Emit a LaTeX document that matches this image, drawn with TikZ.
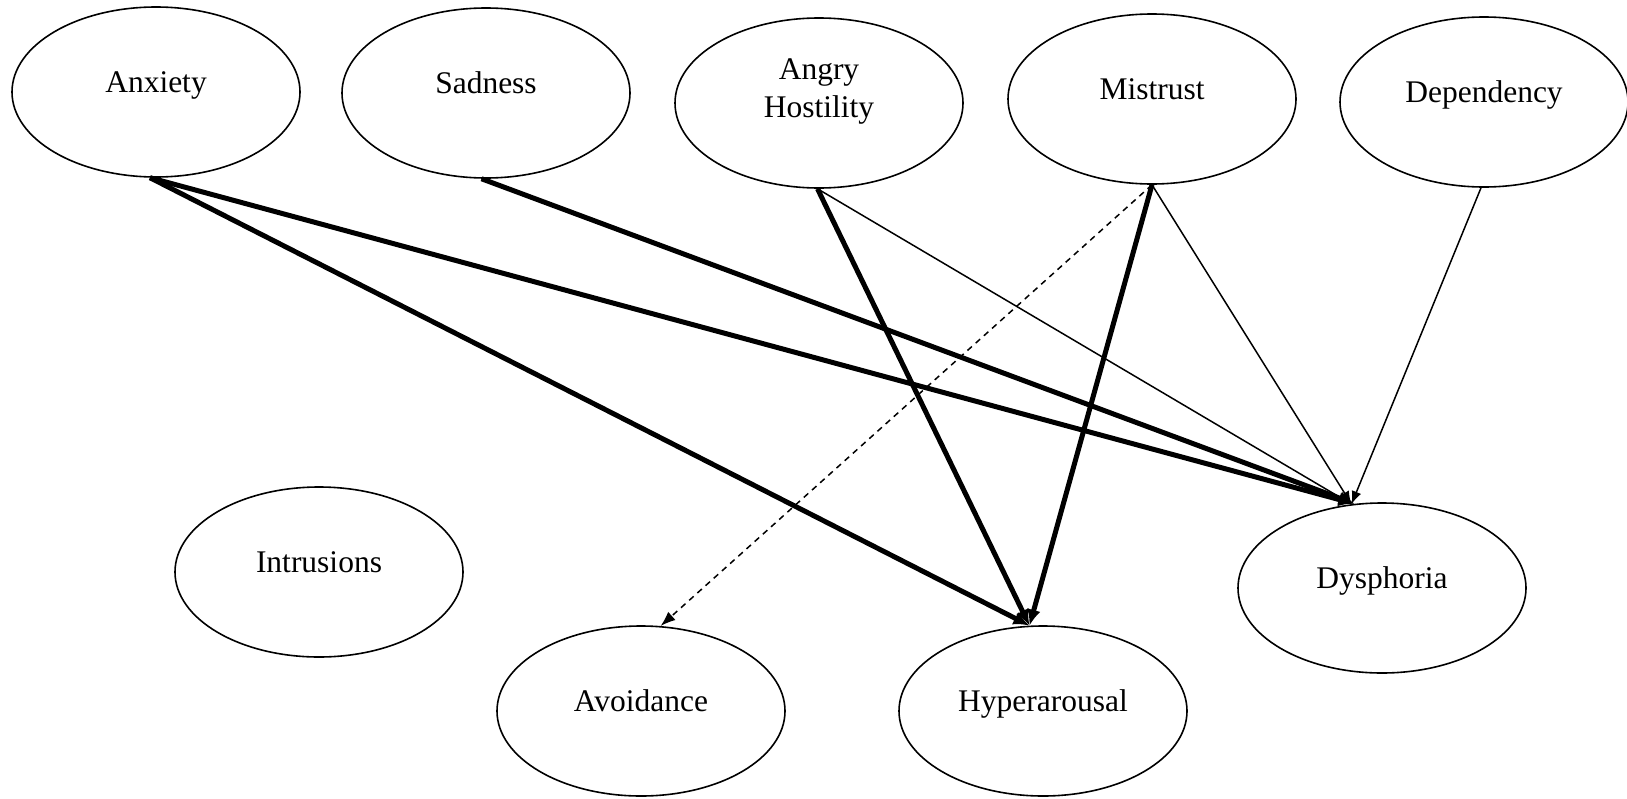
\documentclass[tikz,border=0pt]{standalone}
\usepackage{fontspec}
\setmainfont{Liberation Serif}
\usetikzlibrary{arrows.meta,shapes.geometric}
\begin{document}
\begin{tikzpicture}[x=1pt,y=-1pt,
  state/.style={ellipse, draw, line width=1.6pt, minimum width=288pt, minimum height=170pt,
    inner sep=0pt, font=\fontsize{31.5}{38}\selectfont, text height=0pt, text depth=0pt},
  thickarr/.style={line width=5pt, -{Latex[length=16pt,width=14pt]}},
  thinarr/.style={line width=1.5pt, -{Latex[length=13pt,width=10pt]}},
  dasharr/.style={line width=1.5pt, dash pattern=on 6pt off 5pt, -{Latex[length=15pt,width=11pt]}}
]
\useasboundingbox (0,0) rectangle (1627,798);
\node[state] (anx) at (156,92) {Anxiety};
\node[state] (sad) at (486,93) {Sadness};
\node[state, align=center, text height=28pt, text depth=0pt] (ang) at (819,103) {Angry\\Hostility};
\node[state] (mis) at (1152,99) {Mistrust};
\node[state] (dep) at (1484,102) {Dependency};
\node[state] (intr) at (319,572) {Intrusions};
\node[state] (avo) at (641,711) {Avoidance};
\node[state] (hyp) at (1043,711) {Hyperarousal};
\node[state] (dys) at (1382,588) {Dysphoria};

\draw[thickarr] (anx.-94) -- (hyp.99);
\draw[thickarr] (anx.-94) -- (dys.108);
\draw[thickarr] (sad.-93) -- (dys.108);
\draw[thickarr] (ang.-91) -- (hyp.99);
\draw[thinarr] (ang.-91) -- (dys.110);
\draw[dasharr] (mis.-90) -- (avo.77);
\draw[thickarr] (mis.-90) -- (hyp.99);
\draw[thinarr] (mis.-90) -- (dys.110);
\draw[thinarr] (dep.-92) -- (dys.110);
\end{tikzpicture}
\end{document}
